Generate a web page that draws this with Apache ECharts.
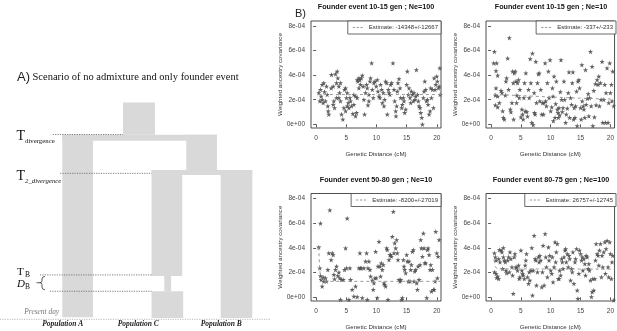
<!DOCTYPE html>
<html>
<head>
<meta charset="utf-8">
<script src="https://cdn.jsdelivr.net/npm/echarts@6/dist/echarts.min.js"></script>
<style>
  html, body { margin: 0; padding: 0; background: #fff; }
  #chart { width: 617px; height: 331px; }
</style>
</head>
<body>
<div id="chart"></div>
<script>
// ---- B) scatter panels, y values in units of 1e-4 ----
const panelTitles = [
  'Founder event 10-15 gen ; Ne=100',
  'Founder event 10-15 gen ; Ne=10',
  'Founder event 50-80 gen ; Ne=10',
  'Founder event 80-75 gen ; Ne=100'
]
const estimateLabels = [
  'Estimate: -14348+/-12667',
  'Estimate: -337+/-233',
  'Estimate: -8200+/-27019',
  'Estimate: 26757+/-12745'
]
const xTicks = [0, 5, 10, 15, 20]
const yTicks = [0, 2, 4, 6, 8]

const points1 = [
  [0.44,2.55],[0.72,2.82],[1.0,3.22],[0.83,2.28],[0.61,1.88],[1.16,1.74],[1.55,1.88],[1.27,3.36],[1.72,3.09],[1.83,2.42],[1.94,1.48],[2.1,0.81],[2.0,1.07],[1.39,2.63],[1.0,2.01],
  [2.55,4.03],[2.49,2.95],[2.83,3.09],[2.94,1.88],[3.21,4.08],[3.38,3.36],[3.49,4.3],[3.6,3.76],[3.77,3.09],[3.88,2.55],[4.04,3.36],[3.38,2.15],[3.05,1.34],[2.83,1.61],[3.77,2.15],[4.04,1.88],
  [4.21,0.81],[4.43,0.4],[4.71,2.82],[4.88,2.95],[5.04,2.15],[5.15,1.48],[5.32,1.74],[5.43,1.34],[5.6,2.15],[4.6,1.34],[4.88,1.07],[5.15,2.55],[5.71,1.88],
  [5.87,1.48],[6.09,0.86],[6.26,2.42],[6.54,0.67],[6.7,0.94],[6.81,3.62],[6.93,3.49],[7.09,3.76],[7.26,3.62],[7.37,3.22],[7.09,2.95],[6.81,2.15],[6.54,2.28],[6.26,1.61],[7.48,3.76],[7.65,3.97],
  [7.81,3.09],[8.03,0.81],[8.2,2.55],[8.37,3.22],[8.48,2.95],[8.59,1.56],[8.75,2.42],[8.92,3.49],[9.03,3.76],[9.2,4.97],[9.31,2.82],[9.47,2.15],[9.58,3.36],[7.92,2.01],[8.75,1.88],
  [9.75,3.49],[9.97,3.09],[10.14,3.62],[10.25,2.68],[10.42,2.28],[10.58,2.15],[10.69,3.22],[10.86,2.82],[10.97,1.74],[11.14,2.55],[11.36,2.01],[11.52,3.49],[11.69,3.36],[11.8,0.81],[11.25,1.48],
  [11.97,2.82],[12.08,2.55],[12.24,2.42],[12.35,3.22],[12.52,3.36],[12.74,4.97],[12.91,2.82],[13.02,1.88],[13.19,1.07],[13.35,1.48],[13.46,2.68],[13.57,3.36],[13.74,3.7],[13.91,2.95],[14.02,2.15],[13.24,0.67],
  [14.18,1.34],[14.29,1.61],[14.46,2.15],[14.57,1.88],[14.68,0.94],[14.85,1.21],[15.01,3.22],[15.12,4.3],[15.29,2.42],[15.4,2.95],[15.57,2.15],[15.68,1.74],[15.79,2.68],[15.96,2.42],[16.12,1.88],[16.23,2.55],
  [16.4,2.01],[16.51,2.28],[16.62,4.43],[16.79,2.42],[16.95,1.88],[17.06,1.48],[17.23,1.34],[17.34,0.94],[17.51,0.54],[17.62,0],[17.78,2.15],[17.89,2.68],[18.01,3.49],[18.17,2.82],[18.28,1.88],[18.45,2.01],
  [18.56,1.61],[18.73,0.81],[18.89,1.07],[19.0,2.95],[19.11,2.15],[19.28,2.82],[19.45,1.34],[19.56,3.76],[19.72,2.82],[19.83,3.22],[20.0,3.89],[20.11,3.49],[20.28,2.95],[20.39,3.09],[20.5,4.56],[20.55,2.42]
]
const points2 = [
  [0.56,5.91],[0.44,4.97],[0.94,4.97],[0.83,4.35],[1.11,3.97],[0.83,2.95],[0.72,2.36],[1.11,2.28],[0.72,1.56],[1.11,1.4],[1.39,1.74],[1.67,2.74],[1.83,2.55],[1.94,1.07],[2.06,0.54],[2.22,0.4],
  [2.39,2.36],[2.5,3.49],[2.61,3.76],[2.78,5.37],[2.94,2.82],[3.06,7.03],[3.22,1.21],[3.33,0.99],[3.5,1.74],[3.61,4.3],[3.72,3.36],[3.78,0.4],[3.89,4.16],[4.06,4.3],[4.17,3.49],[4.28,1.74],
  [4.33,2.36],[4.44,3.36],[4.61,3.62],[4.72,2.15],[4.83,2.82],[5.0,0.59],[5.17,1.21],[5.28,0.81],[5.39,0.4],[5.5,2.15],[5.61,3.36],[5.72,1.07],[5.83,4.16],[6.0,1.02],[6.11,0.64],[6.28,2.82],
  [6.39,2.15],[6.56,5.32],[6.67,3.36],[6.83,0.13],[6.94,5.77],[7.06,-0.05],[7.22,2.55],[7.28,0.94],[7.39,0.81],[7.5,5.1],[7.61,1.74],[7.78,3.36],[7.94,4.08],[8.06,4.16],[8.17,1.88],[8.33,2.82],
  [8.5,0.81],[8.61,1.74],[8.78,0.81],[8.89,1.74],[9.06,4.97],[9.17,1.88],[9.28,1.48],[9.44,3.36],[9.61,4.3],[9.72,2.15],[9.89,5.23],[10.0,1.07],[10.17,1.4],[10.28,2.95],[10.39,2.28],[10.44,0.27],
  [10.56,3.89],[10.72,0.54],[10.83,1.66],[10.94,3.49],[11.11,1.21],[11.22,0.94],[11.28,0.54],[11.39,1.34],[11.5,0.75],[11.61,2.63],[11.72,5.23],[11.83,2.01],[11.94,1.02],[12.06,1.34],[12.22,3.49],[12.33,2.01],
  [12.5,0.13],[12.61,0.81],[12.78,1.29],[12.94,2.55],[13.06,4.24],[13.17,0.54],[13.33,2.15],[13.5,1.61],[13.61,3.36],[13.72,4.24],[13.83,0.4],[13.94,1.34],[14.06,0.54],[14.17,1.48],[14.33,2.68],[14.44,-0.13],
  [14.56,3.49],[14.72,3.62],[14.83,2.95],[15.0,1.34],[15.11,0.4],[15.22,4.83],[15.28,1.88],[15.44,1.48],[15.56,1.21],[15.72,0.54],[15.83,4.43],[15.94,1.61],[16.11,2.09],[16.28,2.47],[16.39,0.67],[16.5,2.15],
  [16.67,5.91],[16.78,1.48],[16.94,4.7],[17.06,-0.13],[17.22,2.74],[17.33,0.59],[17.5,3.28],[17.61,1.56],[17.78,3.62],[17.94,3.22],[18.06,3.89],[18.17,1.48],[18.33,3.36],[18.44,2.01],[18.61,5.1],[18.72,0.13],
  [18.89,2.01],[19.06,3.22],[19.17,0.13],[19.28,2.55],[19.44,4.56],[19.61,0.13],[19.72,1.74],[19.89,4.97],[20.0,2.55],[20.17,3.22],[20.28,1.88],[20.39,4.3],[20.56,1.48]
]
const points3 = [
  [0.44,4.05],[0.72,5.99],[0.61,2.36],[0.72,1.74],[0.83,1.42],[1.0,0.89],[1.16,1.64],[1.27,1.29],[1.55,1.56],[1.72,1.29],[1.94,2.23],[2.1,3.57],[2.27,7.06],[2.49,3.03],[2.66,3.57],[2.83,3.44],
  [2.94,1.83],[3.05,1.48],[3.21,2.23],[3.38,2.5],[3.6,1.74],[3.77,2.01],[3.93,1.56],[4.04,-0.19],[4.21,1.42],[4.49,1.42],[4.71,2.23],[4.88,3.97],[5.04,2.36],[5.15,6.39],[5.43,-0.19],[5.6,2.36],
  [5.71,1.42],[5.98,0.62],[6.26,0.08],[6.54,0.89],[6.81,0.03],[7.09,2.36],[7.26,3.57],[7.37,2.36],[7.48,2.36],[7.65,-0.05],[7.92,2.36],[8.2,2.9],[8.37,3.57],[8.48,-0.19],[8.59,2.36],[8.75,2.9],
  [8.92,2.23],[9.03,1.69],[9.31,1.37],[9.47,0.62],[9.58,1.15],[9.75,1.56],[9.86,3.7],[9.97,1.56],[10.14,-0.05],[10.25,2.5],[10.42,4.51],[10.58,2.5],[10.69,1.69],[10.8,2.77],[10.97,2.23],[11.14,2.63],
  [11.25,1.15],[11.36,1.02],[11.52,0.89],[11.69,3.97],[11.8,3.84],[11.91,-0.19],[12.08,3.03],[12.24,3.44],[12.35,3.44],[12.47,3.3],[12.63,4.91],[12.8,6.93],[12.91,3.57],[13.02,4.38],[13.19,3.97],[13.35,4.64],
  [13.46,3.57],[13.57,3.03],[13.74,1.42],[13.91,1.29],[14.02,1.42],[14.18,-0.19],[14.29,-0.05],[14.46,3.03],[14.57,2.5],[14.68,2.23],[14.85,1.96],[15.01,3.44],[15.12,2.9],[15.29,1.29],[15.4,2.9],[15.57,1.29],
  [15.68,2.23],[15.79,2.63],[15.96,3.7],[16.12,3.84],[16.23,1.29],[16.34,2.09],[16.51,2.23],[16.68,1.15],[16.79,0.62],[16.9,2.5],[17.06,1.42],[17.23,2.63],[17.34,4.64],[17.45,3.97],[17.62,3.3],[17.78,5.18],
  [17.89,3.97],[18.01,2.77],[18.17,2.77],[18.34,-0.05],[18.45,3.84],[18.56,3.97],[18.73,3.44],[18.89,2.23],[19.0,2.63],[19.11,0.48],[19.28,2.23],[19.45,0.62],[19.56,0.62],[19.72,1.29],[19.83,5.32],[20.0,3.57],
  [20.11,1.56],[20.22,3.3],[20.39,4.64]
]
const points4 = [
  [0.56,3.57],[0.72,3.25],[0.56,2.04],[0.83,2.98],[0.83,1.91],[0.94,1.58],[1.11,1.69],[1.28,1.5],[1.28,3.11],[1.39,3.84],[1.5,2.85],[1.67,3.79],[1.83,3.65],[1.94,2.31],[2.06,3.25],[2.06,4.0],
  [2.22,2.98],[2.39,2.85],[2.5,2.17],[2.61,1.96],[2.78,2.98],[2.94,3.25],[3.06,2.04],[3.17,3.65],[3.33,3.11],[3.5,2.44],[3.61,1.77],[3.72,0.3],[3.89,3.25],[4.0,3.52],[4.17,2.44],[4.28,2.39],
  [4.44,2.17],[4.61,2.58],[4.72,1.5],[4.83,1.64],[5.0,3.79],[5.17,2.17],[5.28,1.91],[5.39,1.77],[5.56,1.5],[5.72,2.58],[5.83,2.98],[5.94,3.52],[6.11,1.64],[6.28,1.1],[6.39,2.04],[6.5,1.37],
  [6.67,2.17],[6.83,4.0],[6.94,0.16],[7.06,2.17],[7.22,4.99],[7.39,3.11],[7.5,2.98],[7.61,0.97],[7.78,2.04],[7.94,3.25],[8.06,2.85],[8.17,3.38],[8.33,2.98],[8.5,0.83],[8.61,2.04],[8.72,4.19],
  [8.89,0.97],[9.06,5.13],[9.17,3.25],[9.28,2.44],[9.44,1.64],[9.61,4.05],[9.72,2.98],[9.83,3.38],[10.0,2.17],[10.17,1.91],[10.28,3.25],[10.39,1.23],[10.56,2.44],[10.72,4.46],[10.83,2.85],[10.94,3.65],
  [11.11,4.32],[11.28,1.5],[11.39,1.5],[11.5,2.17],[11.67,1.77],[11.83,3.11],[11.94,2.85],[12.06,2.31],[12.22,3.25],[12.39,3.79],[12.5,3.92],[12.61,2.85],[12.78,3.52],[12.94,2.44],[13.06,3.38],[13.17,3.11],
  [13.33,1.37],[13.5,2.31],[13.61,2.04],[13.72,3.65],[13.89,1.1],[14.06,2.85],[14.17,3.11],[14.33,3.92],[14.44,0.56],[14.56,-0.11],[14.72,1.91],[14.83,3.79],[15.0,3.52],[15.17,2.98],[15.28,3.25],[15.39,2.17],
  [15.56,3.11],[15.72,2.71],[15.83,1.77],[15.94,3.38],[16.11,3.25],[16.28,2.31],[16.39,2.71],[16.5,2.17],[16.67,1.37],[16.83,0.03],[16.94,0.43],[17.06,1.5],[17.22,0.56],[17.39,1.5],[17.5,2.98],[17.61,4.32],
  [17.78,3.52],[17.94,3.38],[18.06,2.58],[18.17,3.79],[18.33,4.32],[18.5,1.64],[18.61,3.38],[18.72,2.44],[18.89,3.65],[19.06,4.46],[19.17,1.91],[19.28,3.92],[19.44,4.59],[19.61,2.44],[19.72,1.64],[19.89,4.46],
  [20.0,3.52],[20.17,1.5],[20.28,2.85],[20.39,3.38],[20.56,-0.24]
]

// fitted curves (dashed grey)
const fit1 = [[0.3,2.42],[20.7,2.42]]
const fit2 = [[0.5,2.5],[1,2.42],[5,2.33],[10,2.22],[15,2.12],[20.7,2.05]]
const fit3 = [[0.44,4.05],[0.5,3.2],[0.6,2.2],[0.75,1.6],[1,1.35],[2,1.29],[20.7,1.29]]
const fit4 = [[0.5,3.0],[0.7,2.5],[1,2.3],[20.7,2.28]]

// ---- A) scenario diagram: x in column widths, t in time units (0 = present day) ----
// [x0, x1, t0, t1]
const diagramBlocks = [
  [1.96, 2.99, 84.2, 99],
  [0, 4.99, 81.5, 84.2],
  [0, 0.99, 0.5, 84.2],
  [4.0, 4.99, 65.7, 84.2],
  [2.88, 6.13, 65.7, 68.0],
  [2.88, 3.87, 19.4, 68.0],
  [3.29, 3.51, 12.4, 19.4],
  [2.88, 3.9, 0.1, 12.4],
  [5.11, 6.13, 0.1, 68.0]
]
// [x0, x1, t]
const eventLines = [
  [-0.31, 1.96, 84.3],
  [-0.07, 2.88, 66.5],
  [-0.72, 2.88, 19.9],
  [-0.4, 2.88, 12.4]
]
const presentLine = [[-2.01, 6.7, -0.46]]

const pointsAll = [points1, points2, points3, points4]
const fitsAll = [fit1, fit2, fit3, fit4]

// layout
const boxes = [
  { left: 311, top: 21, w: 130, h: 107 },
  { left: 486, top: 21, w: 130, h: 107 },
  { left: 311, top: 193.5, w: 130, h: 107.5 },
  { left: 486, top: 193.5, w: 130, h: 107.5 }
]
const sans = 'Liberation Sans, Arial, sans-serif'
const serif = 'Liberation Serif, Times New Roman, serif'
const starPath = 'path://M5,0L6.2,3.6L10,3.6L6.9,5.9L8.1,9.5L5,7.3L1.9,9.5L3.1,5.9L0,3.6L3.8,3.6Z'
const dashIcon = 'path://M0,0H3V1H0Z M5,0H8V1H5Z M10,0H13V1H10Z'

const grid = boxes.map(b => ({
  left: b.left, top: b.top, width: b.w, height: b.h,
  show: true, borderColor: '#222', borderWidth: 0.8, backgroundColor: 'transparent'
}))
grid.push({ left: 62.3, top: 100.3, width: 190, height: 218 })

const xAxis = boxes.map((b, i) => ({
  type: 'value', gridIndex: i, min: -0.85, max: 20.7,
  name: 'Genetic Distance (cM)', nameLocation: 'middle', nameGap: 23,
  nameTextStyle: { fontSize: 6.2, color: '#333', fontFamily: sans },
  axisLine: { show: false },
  axisTick: { show: true, length: 3, customValues: xTicks, lineStyle: { color: '#333', width: 0.8 } },
  axisLabel: { customValues: xTicks, fontSize: 6.5, color: '#444', margin: 7, fontFamily: sans },
  splitLine: { show: false }
}))
xAxis.push({ type: 'value', gridIndex: 4, min: 0, max: 6.13, show: false })

const yAxis = boxes.map((b, i) => ({
  type: 'value', gridIndex: i, min: -0.3, max: 8.4,
  name: 'Weighted ancestry covariance', nameLocation: 'middle', nameGap: 17, nameRotate: 90,
  nameTextStyle: { fontSize: 6.2, color: '#333', fontFamily: sans },
  axisLine: { show: false },
  axisTick: { show: true, length: 3, customValues: yTicks, lineStyle: { color: '#333', width: 0.8 } },
  axisLabel: {
    customValues: yTicks, fontSize: 6.5, color: '#444', margin: 6, fontFamily: sans,
    formatter: v => v === 0 ? '0e+00' : v + 'e-04'
  },
  splitLine: { show: false }
}))
yAxis.push({ type: 'value', gridIndex: 4, min: 0, max: 100, show: false })

const series = []
pointsAll.forEach((pts, i) => {
  series.push({
    type: 'scatter', name: 'pts' + i, xAxisIndex: i, yAxisIndex: i,
    data: pts, symbol: starPath, symbolSize: 5.2, silent: true,
    itemStyle: { color: '#505050', opacity: 0.9 }
  })
  series.push({
    type: 'line', name: estimateLabels[i], xAxisIndex: i, yAxisIndex: i,
    data: fitsAll[i], symbol: 'none', showSymbol: false, silent: true, z: 3,
    color: '#9a9a9a',
    lineStyle: { color: '#9a9a9a', width: 1, type: [3, 3] }
  })
})

series.push({
  type: 'custom', xAxisIndex: 4, yAxisIndex: 4, clip: false, silent: true,
  data: diagramBlocks,
  encode: { x: [0, 1], y: [2, 3] },
  renderItem: (params, api) => {
    const a = api.coord([api.value(0), api.value(3)])
    const b = api.coord([api.value(1), api.value(2)])
    return {
      type: 'rect',
      shape: { x: a[0], y: a[1], width: b[0] - a[0], height: b[1] - a[1] },
      style: { fill: '#d9d9d9' }
    }
  }
})

function dottedLines(data, color) {
  return {
    type: 'custom', xAxisIndex: 4, yAxisIndex: 4, clip: false, silent: true, z: 4,
    data,
    encode: { x: [0, 1], y: 2 },
    renderItem: (params, api) => {
      const a = api.coord([api.value(0), api.value(2)])
      const b = api.coord([api.value(1), api.value(2)])
      return {
        type: 'line',
        shape: { x1: a[0], y1: a[1], x2: b[0], y2: b[1] },
        style: { stroke: color, lineWidth: 0.9, lineDash: [1.2, 1.2] }
      }
    }
  }
}
series.push(dottedLines(eventLines, '#6e6e6e'))
series.push(dottedLines(presentLine, '#b0b0b0'))

const legend = boxes.map((b, i) => ({
  data: [estimateLabels[i]],
  right: 617 - (b.left + b.w), top: b.top,
  orient: 'horizontal', selectedMode: false,
  icon: dashIcon, itemWidth: 10, itemHeight: 1, itemGap: 0,
  borderColor: '#444', borderWidth: 0.8, borderRadius: 0,
  padding: [3.5, 3, 3.5, 5], backgroundColor: '#fff',
  textStyle: { fontSize: 6, color: '#333', fontFamily: sans, padding: [0, 0, 0, 1] }
}))

const titleCenters = [[376, 7.5], [551, 7.5], [376, 180.5], [551, 180.5]]
const graphic = titleCenters.map((c, i) => ({
  type: 'text', x: c[0], y: c[1],
  style: { text: panelTitles[i], fill: '#111', font: 'bold 7.2px ' + sans, align: 'center', verticalAlign: 'middle' }
}))

function txt(x, y, text, font, fill, align) {
  return { type: 'text', x, y, z: 10,
    style: { text, font, fill: fill || '#111', align: align || 'left', verticalAlign: 'middle' } }
}
const braceStyle = { stroke: '#333', fill: 'none', lineWidth: 0.8 }
function curve(x1, y1, cx, cy, x2, y2) {
  return { type: 'bezierCurve', z: 10, shape: { x1, y1, cpx1: cx, cpy1: cy, x2, y2 }, style: braceStyle }
}
function seg(x1, y1, x2, y2) {
  return { type: 'line', z: 10, shape: { x1, y1, x2, y2 }, style: braceStyle }
}
graphic.push(
  txt(295, 14, 'B)', '11px ' + sans, '#222'),
  txt(17, 77, 'A)', '13px ' + sans, '#222'),
  txt(32.5, 77.5, 'Scenario of no admixture and only founder event', '10.5px ' + serif, '#111'),
  txt(16.5, 136.7, 'T', '14px ' + serif),
  txt(25, 141.5, 'divergence', '6.8px ' + serif),
  txt(16.5, 176.7, 'T', '14px ' + serif),
  txt(25, 181.5, '2_divergence', 'italic 6.8px ' + serif),
  txt(17, 272.3, 'T', '11px ' + serif),
  txt(25, 275, 'B', '7.5px ' + serif),
  txt(17, 284, 'D', 'italic 11px ' + serif),
  txt(25, 287.3, 'B', '7.5px ' + serif),
  txt(41.7, 312.5, 'Present day', 'italic 7.4px ' + serif, '#777', 'center'),
  txt(62.7, 324.5, 'Population A', 'bold italic 7.5px ' + serif, '#222', 'center'),
  txt(138.3, 324.5, 'Population C', 'bold italic 7.5px ' + serif, '#222', 'center'),
  txt(221.2, 324.5, 'Population B', 'bold italic 7.5px ' + serif, '#222', 'center'),
  curve(45, 276.5, 42, 276.5, 42, 279),
  seg(42, 279, 42, 281),
  curve(42, 281, 42, 282.7, 39.5, 282.7),
  seg(39.5, 282.7, 36.5, 282.7),
  curve(39.5, 282.7, 42, 282.7, 42, 284.5),
  seg(42, 284.5, 42, 287),
  curve(42, 287, 42, 289.8, 45, 289.8)
)

const chart = echarts.init(document.getElementById('chart'), null, { renderer: 'canvas' })
chart.setOption({
  backgroundColor: '#fff',
  animation: false,
  grid, xAxis, yAxis, legend, series, graphic
})
</script>
</body>
</html>
